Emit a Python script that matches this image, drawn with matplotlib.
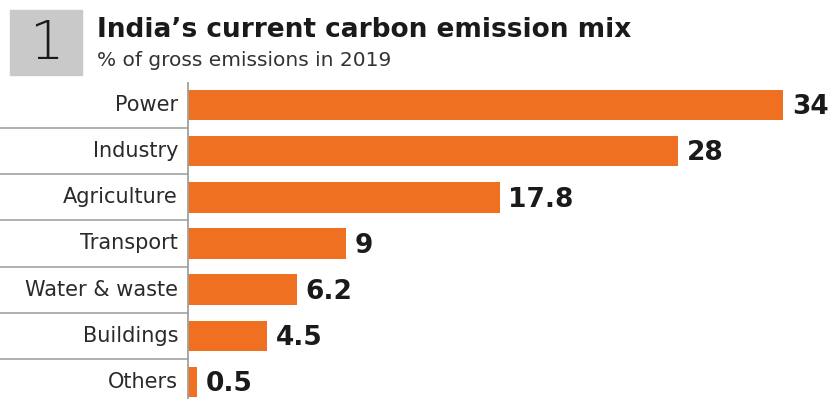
import matplotlib.pyplot as plt
from matplotlib.patches import Rectangle
from matplotlib.transforms import blended_transform_factory

categories = ["Power", "Industry", "Agriculture", "Transport", "Water & waste", "Buildings", "Others"]
values = [34, 28, 17.8, 9, 6.2, 4.5, 0.5]
value_labels = ["34", "28", "17.8", "9", "6.2", "4.5", "0.5"]

title = "India\u2019s current carbon emission mix"
subtitle = "% of gross emissions in 2019"

W, H = 830, 399
fig = plt.figure(figsize=(W / 100, H / 100), dpi=100)
plt.rcParams["font.family"] = ["DejaVu Sans"]

# axes placed in pixels
left_px, top_px = 188, 83
ax = fig.add_axes([left_px / W, 0, 1 - left_px / W, 1 - top_px / H])

ypos = list(range(len(categories)))
ax.barh(ypos, values, height=0.66, color="#f07022")
ax.set_xlim(0, (W - left_px) / 17.5)
ax.set_ylim(6 + 17 / 46.2, -22 / 46.2)

for y, v, lab in zip(ypos, values, value_labels):
    ax.text(v + 0.5, y + 0.05, lab, va="center", ha="left", fontsize=19,
            fontweight="bold", color="#1a1a1a", clip_on=False)

ax.set_xticks([])
ax.set_yticks([])
for s in ["top", "right", "bottom"]:
    ax.spines[s].set_visible(False)
ax.spines["left"].set_color("#a0a0a0")
ax.spines["left"].set_linewidth(1.3)

# category labels and separator lines left of the axis
tr = blended_transform_factory(ax.transAxes, ax.transData)
x0 = -left_px / (W - left_px)
for y, cat in zip(ypos, categories):
    ax.text(-10 / (W - left_px), y, cat, transform=tr, ha="right", va="center",
            fontsize=15, color="#2a2a2a")
for y in ypos[:-1]:
    ax.plot([x0, 0], [y + 0.5, y + 0.5], transform=tr, color="#9a9a9a",
            lw=1.1, clip_on=False)

# numbered box
fig.patches.append(Rectangle((10 / W, 1 - 75 / H), 72 / W, 65 / H,
                             transform=fig.transFigure, color="#c9c9c9"))
fig.text(46 / W, 1 - 44 / H, "1", ha="center", va="center", fontsize=39,
         color="#1a1a1a", fontweight="light")

fig.text(97 / W, 1 - 30 / H, title, ha="left", va="center", fontsize=19,
         fontweight="bold", color="#1a1a1a")
fig.text(97 / W, 1 - 61 / H, subtitle, ha="left", va="center", fontsize=14.5,
         color="#333333")

fig.savefig("out.png", dpi=100, facecolor="white")
